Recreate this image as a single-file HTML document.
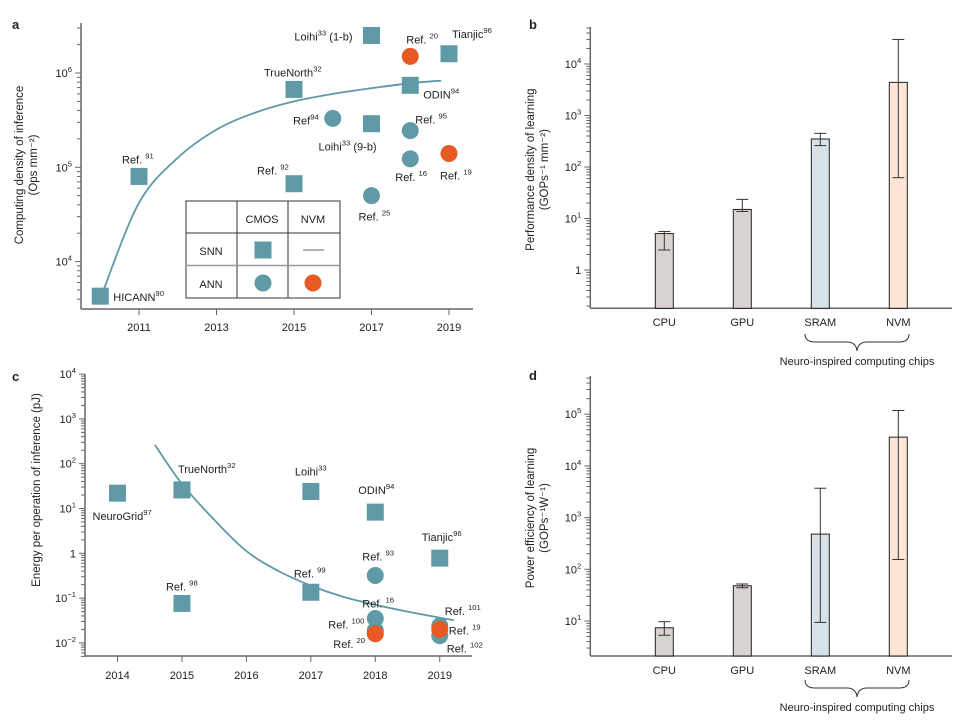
<!DOCTYPE html>
<html><head><meta charset="utf-8"><style>
html,body{margin:0;padding:0;background:#fff;}
svg{display:block;font-family:"Liberation Sans",Arial,sans-serif;}
text{fill:#222;}
</style></head><body>
<svg id="fig" width="958" height="724" viewBox="0 0 958 724" xmlns="http://www.w3.org/2000/svg">
<g id="pa"></g>
<g id="pb"></g>
<g id="pc"></g>
<g id="pd"></g>
</svg>
<script>
// ---------- Panel a data ----------
const aSqYears = [2010, 2011, 2015, 2015, 2017, 2017, 2018, 2019];
const aSqValues = [4300, 80000, 670000, 67000, 2500000, 290000, 740000, 1600000];
const aSqLabels = ['HICANN|90', 'Ref. |91', 'TrueNorth|32', 'Ref. |92', 'Loihi|33| (1-b)', 'Loihi|33| (9-b)', 'ODIN|94', 'Tianjic|96'];
const aCircYears = [2016, 2018, 2018, 2017];
const aCircValues = [330000, 245000, 123000, 50000];
const aCircLabels = ['Ref|94', 'Ref. |95', 'Ref. |16', 'Ref. |25'];
const aNvmYears = [2018, 2019];
const aNvmValues = [1500000, 140000];
const aNvmLabels = ['Ref. |20', 'Ref. |19'];
const aCurveYears = [2010.05, 2011, 2012, 2013, 2014, 2015, 2016, 2017, 2018, 2018.8];
const aCurveValues = [4600, 42000, 126000, 251000, 380000, 500000, 600000, 690000, 780000, 830000];
const aXTicks = [2011, 2013, 2015, 2017, 2019];
const aYTickExp = ['4', '5', '6'];

// ---------- Panel c data ----------
const cSqYears = [2014, 2015, 2015, 2017, 2017, 2018, 2019];
const cSqValues = [22, 26, 0.076, 24, 0.135, 8.3, 0.78];
const cSqLabels = ['NeuroGrid|97', 'TrueNorth|32', 'Ref. |98', 'Loihi|33', 'Ref. |99', 'ODIN|94', 'Tianjic|96'];
const cCircYears = [2018, 2018, 2018, 2019, 2019];
const cCircValues = [0.32, 0.035, 0.019, 0.024, 0.0145];
const cCircLabels = ['Ref. |93', 'Ref. |16', 'Ref. |100', 'Ref. |101', 'Ref. |102'];
const cNvmYears = [2018, 2019];
const cNvmValues = [0.016, 0.020];
const cNvmLabels = ['Ref. |20', 'Ref. |19'];
const cCurveYears = [2014.58, 2015, 2015.5, 2016, 2016.5, 2017, 2017.5, 2018, 2018.5, 2019.22];
const cCurveValues = [263, 35.5, 5.6, 1.12, 0.40, 0.19, 0.107, 0.071, 0.050, 0.032];
const cXTicks = [2014, 2015, 2016, 2017, 2018, 2019];
const cYTickExp = ['-2', '-1', '0', '1', '2', '3', '4'];

// ---------- Panel b data ----------
const barCategories = ['CPU', 'GPU', 'SRAM', 'NVM'];
const bValues = [5.1, 15, 350, 4400];
const bErrLow = [2.45, 13.7, 260, 62];
const bErrHigh = [5.6, 23.5, 450, 30000];
const bYTickExp = ['0', '1', '2', '3', '4'];

// ---------- Panel d data ----------
const dValues = [7.4, 48, 480, 36000];
const dErrLow = [5.3, 44, 9.4, 155];
const dErrHigh = [9.7, 52, 3700, 118000];
const dYTickExp = ['1', '2', '3', '4', '5'];

const TEAL = '#5f9aa6', ORANGE = '#e85a24', AX = '#666';
const barFills = ['#d8d3d1', '#d8d3d1', '#d7e2e6', '#fde6d8'];
const NS = 'http://www.w3.org/2000/svg';
function mk(parent, tag, attrs) {
  const e = document.createElementNS(NS, tag);
  for (const k in attrs) e.setAttribute(k, attrs[k]);
  parent.appendChild(e);
  return e;
}
function supText(parent, x, y, str, anchor, size) {
  const parts = str.split('|');
  const t = mk(parent, 'text', {x: x, y: y, 'font-size': size || 11, 'text-anchor': anchor || 'start'});
  const s1 = mk(t, 'tspan', {}); s1.textContent = parts[0];
  if (parts.length > 1) {
    const s2 = mk(t, 'tspan', {dy: -5, 'font-size': (size || 11) * 0.7}); s2.textContent = parts[1];
    if (parts.length > 2) { const s3 = mk(t, 'tspan', {dy: 5}); s3.textContent = parts[2]; }
  }
  return t;
}
function smoothPath(pts) {
  let d = 'M' + pts[0][0] + ',' + pts[0][1];
  for (let i = 0; i < pts.length - 1; i++) {
    const p0 = pts[i - 1] || pts[i], p1 = pts[i], p2 = pts[i + 1], p3 = pts[i + 2] || p2;
    const c1x = p1[0] + (p2[0] - p0[0]) / 6, c1y = p1[1] + (p2[1] - p0[1]) / 6;
    const c2x = p2[0] - (p3[0] - p1[0]) / 6, c2y = p2[1] - (p3[1] - p1[1]) / 6;
    d += ' C' + c1x + ',' + c1y + ' ' + c2x + ',' + c2y + ' ' + p2[0] + ',' + p2[1];
  }
  return d;
}
function logAxis(g, x0, yTop, yBot, yOf, exps, minExp, maxExp, fmt) {
  const ax = mk(g, 'line', {x1: x0, y1: yTop, x2: x0, y2: yBot, stroke: AX, 'stroke-width': 1.5});
  
  
  for (let e = minExp; e <= maxExp; e++) {
    for (let m = 1; m <= 9; m++) {
      const y = yOf(m * Math.pow(10, e));
      if (y < yTop - 0.5 || y > yBot + 0.5) continue;
      mk(g, 'line', {x1: x0 - (m === 1 ? 6 : 4), y1: y, x2: x0, y2: y, stroke: AX, 'stroke-width': 1});
    }
  }
  exps.forEach(s => {
    const e = parseFloat(s);
    const y = yOf(Math.pow(10, e));
    let lbl;
    if (fmt && e === 0) lbl = supText(g, x0 - 9, y + 4, '1', 'end', 11);
    else lbl = supText(g, x0 - 9, y + 4, '10|' + s.replace('-', '\u2212'), 'end', 11);
    
    
  });
}
function square(g, cx, cy, name) {
  const r = mk(g, 'rect', {x: cx - 8.5, y: cy - 8.5, width: 17, height: 17, fill: TEAL});
  
  
}
function circle(g, cx, cy, fill, name) {
  const c = mk(g, 'circle', {cx: cx, cy: cy, r: 8.5, fill: fill});
  
  
}
function panelLabel(g, x, y, s) {
  const t = mk(g, 'text', {x: x, y: y, 'font-size': 13, 'font-weight': 'bold'}); t.textContent = s;
  
  
}
function yTitle(g, cx, cy, l1, l2) {
  const t = mk(g, 'text', {transform: 'translate(' + cx + ',' + cy + ') rotate(-90)', 'text-anchor': 'middle', 'font-size': 11.5});
  
  
  const a = mk(t, 'tspan', {x: 0, y: 0}); a.textContent = l1;
  if (l2) {
    const b = mk(t, 'tspan', {x: 0, y: 14}); b.textContent = l2;
  }
}

// ================= Panel a =================
(function () {
  const g = document.getElementById('pa');
  const xA = yr => 100.25 + (yr - 2010) * 38.75;
  const yA = v => 73 - (Math.log10(v) - 6) * 94.3;
  panelLabel(g, 12, 29, 'a');
  logAxis(g, 81, 23, 309, yA, aYTickExp, 3, 6);
  const xl = mk(g, 'line', {x1: 81, y1: 309, x2: 473, y2: 309, stroke: AX, 'stroke-width': 1.5});
  
  
  aXTicks.forEach(yr => {
    mk(g, 'line', {x1: xA(yr), y1: 309, x2: xA(yr), y2: 315, stroke: AX, 'stroke-width': 1});
    const t = mk(g, 'text', {x: xA(yr), y: 331, 'font-size': 11, 'text-anchor': 'middle'}); t.textContent = yr;
    
    
  });
  yTitle(g, 23, 165, 'Computing density of inference', '(Ops mm\u207B\u00B2)');
  const pts = aCurveYears.map((y, i) => [xA(y), yA(aCurveValues[i])]);
  const cp = mk(g, 'path', {d: smoothPath(pts), fill: 'none', stroke: TEAL, 'stroke-width': 1.8});
  
  
  const sqOff = [[13, 5, 'start'], [-17, -13, 'start'], [-30, -13, 'start'], [-37, -9, 'start'], [-19, 5, 'end'], [-53, 27, 'start'], [13, 13, 'start'], [3, -16, 'start']];
  aSqYears.forEach((yr, i) => {
    const x = xA(yr), y = yA(aSqValues[i]);
    square(g, x, y, 'snn-cmos-point');
    const o = sqOff[i];
    const l = supText(g, x + o[0], y + o[1], aSqLabels[i], o[2]);
    
    
  });
  const ciOff = [[-14, 6, 'end'], [5, -7, 'start'], [-15, 22, 'start'], [-13, 25, 'start']];
  aCircYears.forEach((yr, i) => {
    const x = xA(yr), y = yA(aCircValues[i]);
    circle(g, x, y, TEAL, 'ann-cmos-point');
    const o = ciOff[i];
    const l = supText(g, x + o[0], y + o[1], aCircLabels[i], o[2]);
    
    
  });
  const nvOff = [[-4, -13, 'start'], [-9, 26, 'start']];
  aNvmYears.forEach((yr, i) => {
    const x = xA(yr), y = yA(aNvmValues[i]);
    circle(g, x, y, ORANGE, 'ann-nvm-point');
    const o = nvOff[i];
    const l = supText(g, x + o[0], y + o[1], aNvmLabels[i], o[2]);
    
    
  });
  const lg = mk(g, 'g', {});
  
  
  mk(lg, 'rect', {x: 186, y: 201, width: 154, height: 97, fill: '#fff', stroke: '#333', 'stroke-width': 1});
  mk(lg, 'line', {x1: 237, y1: 201, x2: 237, y2: 298, stroke: '#333'});
  mk(lg, 'line', {x1: 288, y1: 201, x2: 288, y2: 298, stroke: '#333'});
  mk(lg, 'line', {x1: 186, y1: 233, x2: 340, y2: 233, stroke: '#333'});
  mk(lg, 'line', {x1: 186, y1: 265.5, x2: 340, y2: 265.5, stroke: '#999', 'stroke-width': 1.5});
  [['CMOS', 262, 223], ['NVM', 313, 223], ['SNN', 211, 255], ['ANN', 211, 288]].forEach(a => {
    const t = mk(lg, 'text', {x: a[1], y: a[2], 'font-size': 11, 'text-anchor': 'middle'}); t.textContent = a[0];
    
    
  });
  square(lg, 263, 250, 'legend-snn-cmos');
  mk(lg, 'line', {x1: 303, y1: 250, x2: 324, y2: 250, stroke: '#999', 'stroke-width': 1.5});
  circle(lg, 263, 283, TEAL, 'legend-ann-cmos');
  circle(lg, 313, 283, ORANGE, 'legend-ann-nvm');
})();

// ================= Panel c =================
(function () {
  const g = document.getElementById('pc');
  const xC = yr => 117.5 + (yr - 2014) * 64.45;
  const yC = v => 553.3 - Math.log10(v) * 44.8;
  panelLabel(g, 12, 381, 'c');
  logAxis(g, 85, 374, 656, yC, cYTickExp, -3, 4, true);
  const xl = mk(g, 'line', {x1: 85, y1: 656, x2: 472, y2: 656, stroke: AX, 'stroke-width': 1.5});
  
  
  cXTicks.forEach(yr => {
    mk(g, 'line', {x1: xC(yr), y1: 656, x2: xC(yr), y2: 662, stroke: AX, 'stroke-width': 1});
    const t = mk(g, 'text', {x: xC(yr), y: 679, 'font-size': 11, 'text-anchor': 'middle'}); t.textContent = yr;
    
    
  });
  yTitle(g, 40, 490, 'Energy per operation of inference (pJ)');
  const pts = cCurveYears.map((y, i) => [xC(y), yC(cCurveValues[i])]);
  const cp = mk(g, 'path', {d: smoothPath(pts), fill: 'none', stroke: TEAL, 'stroke-width': 1.8});
  
  
  const sqOff = [[-25, 27, 'start'], [-4, -17, 'start'], [-16, -13, 'start'], [-16, -16, 'start'], [-17, -15, 'start'], [-17, -18, 'start'], [-18, -17, 'start']];
  cSqYears.forEach((yr, i) => {
    const x = xC(yr), y = yC(cSqValues[i]);
    square(g, x, y, 'snn-cmos-point');
    const o = sqOff[i];
    const l = supText(g, x + o[0], y + o[1], cSqLabels[i], o[2]);
    
    
  });
  const ciOff = [[-13, -15, 'start'], [-13, -11, 'start'], [-47, -2, 'start'], [5, -11, 'start'], [7, 17, 'start']];
  cCircYears.forEach((yr, i) => {
    const x = xC(yr), y = yC(cCircValues[i]);
    circle(g, x, y, TEAL, 'ann-cmos-point');
    const o = ciOff[i];
    const l = supText(g, x + o[0], y + o[1], cCircLabels[i], o[2]);
    
    
  });
  const nvOff = [[-42, 14, 'start'], [9, 5, 'start']];
  cNvmYears.forEach((yr, i) => {
    const x = xC(yr), y = yC(cNvmValues[i]);
    circle(g, x, y, ORANGE, 'ann-nvm-point');
    const o = nvOff[i];
    const l = supText(g, x + o[0], y + o[1], cNvmLabels[i], o[2]);
    
    
  });
})();

// ================= Bar panels =================
const barX = [664.3, 742.3, 820.3, 898.3];
function barPanel(id, letter, letterY, yTop, yBot, yOf, exps, minE, maxE, vals, lo, hi, title, sub, lblY, braceY) {
  const g = document.getElementById(id);
  panelLabel(g, 529, letterY, letter);
  logAxis(g, 590.3, yTop, yBot, yOf, exps, minE, maxE, true);
  const xl = mk(g, 'line', {x1: 590.3, y1: yBot, x2: 952, y2: yBot, stroke: AX, 'stroke-width': 1.5});
  
  
  yTitle(g, 534, (yTop + yBot) / 2 + 2, title, sub);
  barCategories.forEach((c, i) => {
    const x = barX[i], top = yOf(vals[i]);
    const r = mk(g, 'rect', {x: x - 9, y: top, width: 18, height: yBot - top, fill: barFills[i], stroke: '#222', 'stroke-width': 1});
    
    
    const y1 = yOf(hi[i]), y2 = yOf(lo[i]);
    const eg = mk(g, 'g', {stroke: '#333', 'stroke-width': 1});
    
    
    mk(eg, 'line', {x1: x, y1: y1, x2: x, y2: y2});
    mk(eg, 'line', {x1: x - 6, y1: y1, x2: x + 6, y2: y1});
    mk(eg, 'line', {x1: x - 6, y1: y2, x2: x + 6, y2: y2});
    const t = mk(g, 'text', {x: x, y: lblY, 'font-size': 11, 'text-anchor': 'middle'}); t.textContent = c;
    
    
  });
  const b = braceY;
  const br = mk(g, 'path', {d: 'M805,' + b + ' Q805,' + (b + 8) + ' 815,' + (b + 8) + ' L847,' + (b + 8) + ' Q856,' + (b + 8) + ' 857,' + (b + 17) + ' Q858,' + (b + 8) + ' 867,' + (b + 8) + ' L899,' + (b + 8) + ' Q909,' + (b + 8) + ' 909,' + b, fill: 'none', stroke: '#333', 'stroke-width': 1});
  
  
  const t = mk(g, 'text', {x: 857, y: b + 31, 'font-size': 11, 'text-anchor': 'middle'}); t.textContent = 'Neuro-inspired computing chips';
  
  
}
barPanel('pb', 'b', 29, 27, 308.3, v => 270 - Math.log10(v) * 51.5, bYTickExp, -1, 4, bValues, bErrLow, bErrHigh,
  'Performance density of learning', '(GOPs\u207B\u00B9 mm\u207B\u00B2)', 326, 334);
barPanel('pd', 'd', 380, 376, 656, v => 621 - (Math.log10(v) - 1) * 51.7, dYTickExp, 0, 5, dValues, dErrLow, dErrHigh,
  'Power efficiency of learning', '(GOPs\u207B\u00B9W\u207B\u00B9)', 674, 680);
</script>
</body></html>
